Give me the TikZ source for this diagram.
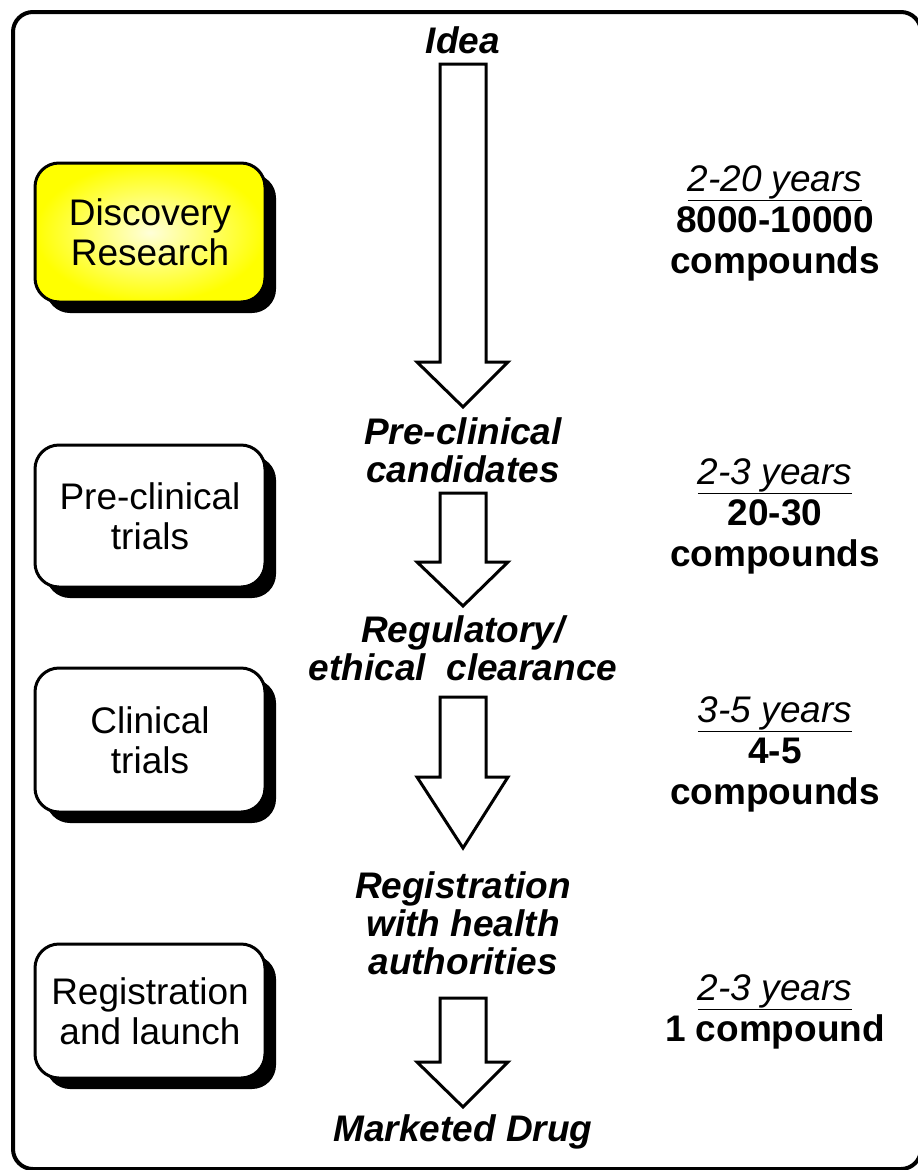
\documentclass[tikz,border=0pt]{standalone}
\usepackage{fontspec}
\setmainfont{Liberation Sans}
\usetikzlibrary{shadows}

% down-pointing block arrow: shaft top, shoulder and tip heights
\newcommand{\downblock}[3]{%
  \draw[blockarrow] (440,#1) -- (486,#1) -- (486,#2) -- (508,#2) -- (463,#3)
    -- (417,#2) -- (440,#2) -- cycle;}

\begin{document}
\begin{tikzpicture}[x=1pt,y=-1pt,
  every node/.style={inner sep=0pt, outer sep=0pt},
  stagebox/.style={draw, line width=3pt, rounded corners=24pt, fill=white,
    minimum width=230pt, align=center,
    font=\fontsize{37}{40}\selectfont,
    drop shadow={shadow xshift=11pt, shadow yshift=-11pt, fill=black, opacity=1}},
  milestone/.style={align=center, font=\fontsize{37}{38}\selectfont\bfseries\itshape},
  duration/.style={align=center, font=\fontsize{37}{41}\selectfont},
  blockarrow/.style={draw, line width=3pt, fill=white, line join=miter},
  frame/.style={draw, line width=4pt, rounded corners=20pt}]
\useasboundingbox (0,0) rectangle (918,1170);

% outer frame
\path[frame] (13,12) rectangle (921,1169);

% stages on the left
\node[stagebox, minimum height=139pt, fill=yellow,
  inner color=yellow!15, outer color=yellow] (disc) at (150,232.5)
  {Discovery\\Research};
\node[stagebox, minimum height=142pt] (prec) at (150,516) {Pre-clinical\\trials};
\node[stagebox, minimum height=144pt] (clin) at (150,740) {Clinical\\trials};
\node[stagebox, minimum height=134pt] (regl) at (150,1011) {Registration\\and launch};

% milestones in the middle
\node[milestone] (idea) at (463,40) {Idea};
\node[milestone] (cand) at (463,450) {Pre-clinical\\candidates};
\node[milestone] (clear) at (463,648) {Regulatory/\\ethical\ \ clearance};
\node[milestone] (auth) at (463,923) {Registration\\with health\\authorities};
\node[milestone] (drug) at (463,1132) {Marketed Drug};

% block arrows between milestones
\downblock{64}{362}{407}
\downblock{493}{562}{606}
\downblock{697}{777}{848}
\downblock{998}{1062}{1107}

% durations and compound counts on the right
\node[duration] (d1) at (775,223)
  {\underline{\itshape 2-20 years}\\\textbf{8000-10000}\\\textbf{compounds}};
\node[duration] (d2) at (775,516)
  {\underline{\itshape 2-3 years}\\\textbf{20-30}\\\textbf{compounds}};
\node[duration] (d3) at (775,754)
  {\underline{\itshape 3-5 years}\\\textbf{4-5}\\\textbf{compounds}};
\node[duration] (d4) at (775,1012)
  {\underline{\itshape 2-3 years}\\\textbf{1 compound}};
\end{tikzpicture}
\end{document}
